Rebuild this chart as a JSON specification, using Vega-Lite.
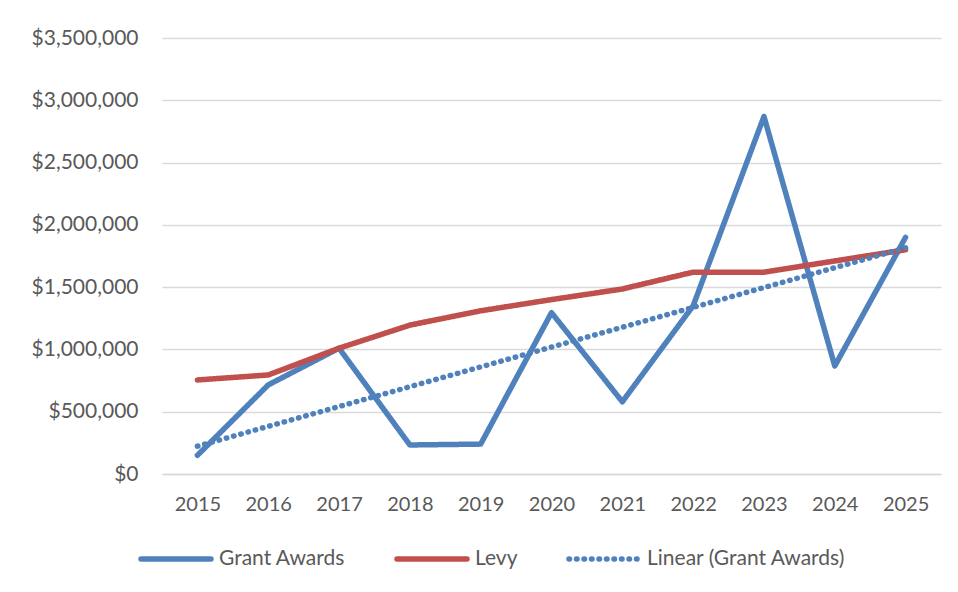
{
  "$schema": "https://vega.github.io/schema/vega-lite/v6.json",
  "autosize": {"type": "none"},
  "width": 779,
  "height": 436,
  "padding": {"left": 162, "top": 38, "right": 17, "bottom": 118},
  "background": "white",
  "config": {
    "view": {"stroke": null},
    "font": "Lato",
    "axis": {"labelFont": "Lato", "labelColor": "#595959", "labelFontSize": 20, "gridColor": "#D9D9D9", "gridWidth": 1.5, "domainColor": "#D9D9D9", "domainWidth": 1.5, "ticks": false}
  },
  "data": {
    "values": [
      {"year": "2015", "series": "Grant Awards", "value": 150000},
      {"year": "2016", "series": "Grant Awards", "value": 715000},
      {"year": "2017", "series": "Grant Awards", "value": 1010000},
      {"year": "2018", "series": "Grant Awards", "value": 233000},
      {"year": "2019", "series": "Grant Awards", "value": 240000},
      {"year": "2020", "series": "Grant Awards", "value": 1295000},
      {"year": "2021", "series": "Grant Awards", "value": 580000},
      {"year": "2022", "series": "Grant Awards", "value": 1350000},
      {"year": "2023", "series": "Grant Awards", "value": 2870000},
      {"year": "2024", "series": "Grant Awards", "value": 867000},
      {"year": "2025", "series": "Grant Awards", "value": 1900000},
      {"year": "2015", "series": "Levy", "value": 755000},
      {"year": "2016", "series": "Levy", "value": 795000},
      {"year": "2017", "series": "Levy", "value": 1010000},
      {"year": "2018", "series": "Levy", "value": 1195000},
      {"year": "2019", "series": "Levy", "value": 1310000},
      {"year": "2020", "series": "Levy", "value": 1400000},
      {"year": "2021", "series": "Levy", "value": 1485000},
      {"year": "2022", "series": "Levy", "value": 1620000},
      {"year": "2023", "series": "Levy", "value": 1620000},
      {"year": "2024", "series": "Levy", "value": 1710000},
      {"year": "2025", "series": "Levy", "value": 1800000},
      {"year": "2015", "series": "Linear (Grant Awards)", "value": 223000},
      {"year": "2025", "series": "Linear (Grant Awards)", "value": 1815000}
    ]
  },
  "mark": {"type": "line", "strokeCap": "round", "strokeJoin": "round"},
  "encoding": {
    "x": {"field": "year", "type": "ordinal", "sort": null, "axis": {"title": null, "labelAngle": 0, "labelPadding": 20, "grid": false}},
    "y": {"field": "value", "type": "quantitative", "scale": {"domain": [0, 3500000], "nice": false}, "axis": {"title": null, "values": [0, 500000, 1000000, 1500000, 2000000, 2500000, 3000000, 3500000], "format": "$,.0f", "labelPadding": 24, "labelFontSize": 21, "domain": false}},
    "color": {"field": "series", "type": "nominal", "scale": {"domain": ["Grant Awards", "Levy", "Linear (Grant Awards)"], "range": ["#4F81BD", "#C0504D", "#4F81BD"]},
      "legend": {"title": null, "orient": "none", "legendX": -24, "legendY": 483, "direction": "horizontal", "symbolType": "stroke", "symbolSize": 4900, "symbolStrokeWidth": 5, "labelFont": "Lato", "labelFontSize": 21, "labelColor": "#595959", "labelOffset": 5, "labelLimit": 0, "columnPadding": 40,
        "encode": {"symbols": {"update": {"strokeCap": {"value": "round"}, "strokeWidth": {"signal": "datum.value === 'Linear (Grant Awards)' ? 2.5 : 5.5"}}}}}},
    "strokeDash": {"field": "series", "type": "nominal", "scale": {"domain": ["Grant Awards", "Levy", "Linear (Grant Awards)"], "range": [[1, 0], [1, 0], [0.5, 7]]}, "legend": null},
    "strokeWidth": {"field": "series", "type": "nominal", "scale": {"domain": ["Grant Awards", "Levy", "Linear (Grant Awards)"], "range": [5.5, 5.5, 2.5]}, "legend": null}
  }
}
